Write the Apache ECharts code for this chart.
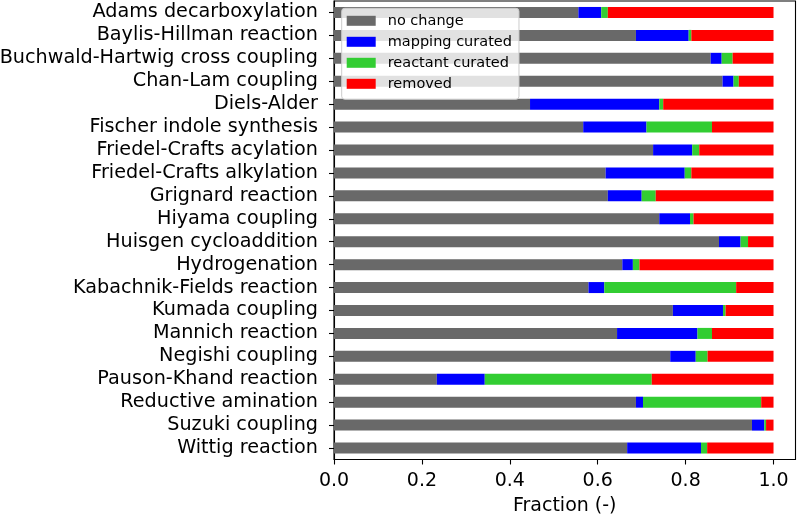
<!DOCTYPE html>
<html>
<head>
<meta charset="utf-8">
<script src="https://cdn.jsdelivr.net/npm/echarts@6/dist/echarts.min.js"></script>
<style>
    html, body { margin: 0; padding: 0; background: #fff; }
    #chart { width: 797px; height: 517px; }
</style>
</head>
<body>
<div id="chart"></div>
<script>
'use strict';
// reactions, top to bottom
const reactions = [
    'Adams decarboxylation', 'Baylis-Hillman reaction', 'Buchwald-Hartwig cross coupling',
    'Chan-Lam coupling', 'Diels-Alder', 'Fischer indole synthesis', 'Friedel-Crafts acylation',
    'Friedel-Crafts alkylation', 'Grignard reaction', 'Hiyama coupling', 'Huisgen cycloaddition',
    'Hydrogenation', 'Kabachnik-Fields reaction', 'Kumada coupling', 'Mannich reaction',
    'Negishi coupling', 'Pauson-Khand reaction', 'Reductive amination', 'Suzuki coupling',
    'Wittig reaction'
];
const noChange = [0.556, 0.687, 0.857, 0.884, 0.446, 0.567, 0.726, 0.618, 0.623, 0.740,
    0.876, 0.656, 0.579, 0.771, 0.644, 0.765, 0.234, 0.687, 0.951, 0.667];
const mappingCurated = [0.052, 0.120, 0.025, 0.025, 0.294, 0.144, 0.089, 0.180, 0.077, 0.070,
    0.049, 0.024, 0.036, 0.114, 0.183, 0.058, 0.109, 0.016, 0.028, 0.168];
const reactantCurated = [0.015, 0.006, 0.025, 0.012, 0.009, 0.149, 0.016, 0.015, 0.032, 0.008,
    0.017, 0.015, 0.300, 0.006, 0.033, 0.027, 0.380, 0.269, 0.004, 0.014];
const removed = [0.377, 0.187, 0.093, 0.079, 0.251, 0.140, 0.169, 0.187, 0.268, 0.182,
    0.058, 0.305, 0.085, 0.109, 0.140, 0.150, 0.277, 0.028, 0.017, 0.151];
const xTicks = [0, 0.2, 0.4, 0.6, 0.8, 1.0];

{
    let dom = document.getElementById('chart');
    let myChart = echarts.init(dom, null, {renderer: 'canvas'});
    const font = 'DejaVu Sans';

    function bar(name, data, color) {
        return {
            name: name,
            type: 'bar',
            stack: 'total',
            data: data,
            barWidth: 11,
            itemStyle: {color: color},
            animation: false
        };
    }

    let option = {
        backgroundColor: '#fff',
        textStyle: {fontFamily: font, color: '#000'},
        grid: {
            left: 334, top: 1, width: 461.5, height: 458.5,
            show: true, borderColor: '#000', borderWidth: 1.1,
            containLabel: false,
            outerBoundsMode: 'none'
        },
        legend: {
            orient: 'vertical',
            left: 341.7, top: 8.3,
            padding: [5, 7, 8, 5],
            itemWidth: 29, itemHeight: 10, itemGap: 6,
            icon: 'rect',
            selectedMode: false,
            backgroundColor: 'rgba(255,255,255,0.8)',
            borderColor: '#cccccc', borderWidth: 1, borderRadius: 3,
            textStyle: {fontFamily: font, fontSize: 14.5, lineHeight: 15, color: '#000', padding: [0, 0, 0, 7]},
            data: ['no change', 'mapping curated', 'reactant curated', 'removed']
        },
        xAxis: {
            type: 'value',
            min: 0, max: 1.05,
            name: 'Fraction (-)',
            nameLocation: 'middle',
            nameGap: 37.5,
            nameTextStyle: {fontFamily: font, fontSize: 19, color: '#000'},
            axisLine: {lineStyle: {color: '#000', width: 1.1}},
            axisTick: {show: true, length: 5, lineStyle: {color: '#000', width: 1.1}, customValues: xTicks},
            axisLabel: {
                fontFamily: font, fontSize: 19, color: '#000', margin: 12.5,
                customValues: xTicks,
                formatter: function (v) { return v.toFixed(1); }
            },
            splitLine: {show: false}
        },
        yAxis: {
            type: 'category',
            inverse: true,
            data: reactions,
            axisLine: {lineStyle: {color: '#000', width: 1.1}},
            axisTick: {show: true, alignWithLabel: true, length: 5, lineStyle: {color: '#000', width: 1.1}},
            axisLabel: {fontFamily: font, fontSize: 19.2, color: '#000', margin: 16, interval: 0},
            splitLine: {show: false}
        },
        series: [
            bar('no change', noChange, '#696969'),
            bar('mapping curated', mappingCurated, '#0000ff'),
            bar('reactant curated', reactantCurated, '#32cd32'),
            bar('removed', removed, '#ff0000')
        ],
        animation: false
    };

    if (option && typeof option === 'object') {
        myChart.setOption(option, true);
    }
}
</script>
</body>
</html>
